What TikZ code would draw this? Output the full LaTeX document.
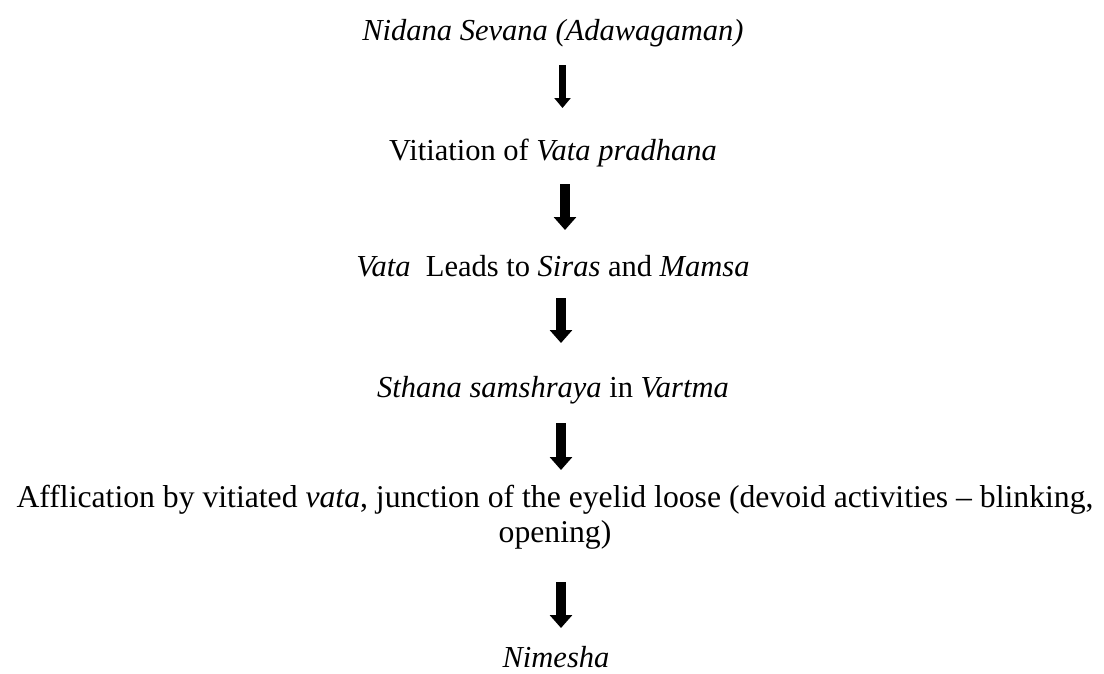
\documentclass[tikz,border=0pt]{standalone}
\usepackage{fontspec}
\setmainfont{Liberation Serif}
\usetikzlibrary{arrows.meta}
\tikzset{
  txt/.style={anchor=base, inner sep=0pt, align=center, font=\fontsize{30.5}{35}\selectfont},
  bigarrow/.style={line width=9.5pt, -{Triangle[width=22pt,length=13pt]}},
  smallarrow/.style={line width=7pt, -{Triangle[width=16pt,length=10pt]}}
}
\begin{document}
\begin{tikzpicture}[x=1pt,y=1pt]
\useasboundingbox (0,0) rectangle (1104,-673);
\node[txt] (t1) at (553,-40) {\textit{Nidana Sevana (Adawagaman)}};
\node[txt] (t2) at (553,-160) {Vitiation of \textit{Vata pradhana}};
\node[txt] (t3) at (553,-276) {\textit{Vata}~ Leads to \textit{Siras} and \textit{Mamsa}};
\node[txt] (t4) at (553,-397) {\textit{Sthana samshraya} in \textit{Vartma}};
\node[txt, font=\fontsize{31.7}{35}\selectfont] (t5) at (555,-542) {Afflication by vitiated \textit{vata}, junction of the eyelid loose (devoid activities – blinking,\\ opening)};
\node[txt] (t6) at (556,-667) {\textit{Nimesha}};
\coordinate (a1s) at (562.5,-65);  \coordinate (a1e) at (562.5,-108);
\coordinate (a2s) at (565,-184);   \coordinate (a2e) at (565,-230);
\coordinate (a3s) at (561,-298);   \coordinate (a3e) at (561,-343);
\coordinate (a4s) at (561,-423);   \coordinate (a4e) at (561,-470);
\coordinate (a5s) at (561,-582);   \coordinate (a5e) at (561,-628);
\draw[smallarrow] (a1s) -- (a1e);
\draw[bigarrow] (a2s) -- (a2e);
\draw[bigarrow] (a3s) -- (a3e);
\draw[bigarrow] (a4s) -- (a4e);
\draw[bigarrow] (a5s) -- (a5e);
\end{tikzpicture}
\end{document}
